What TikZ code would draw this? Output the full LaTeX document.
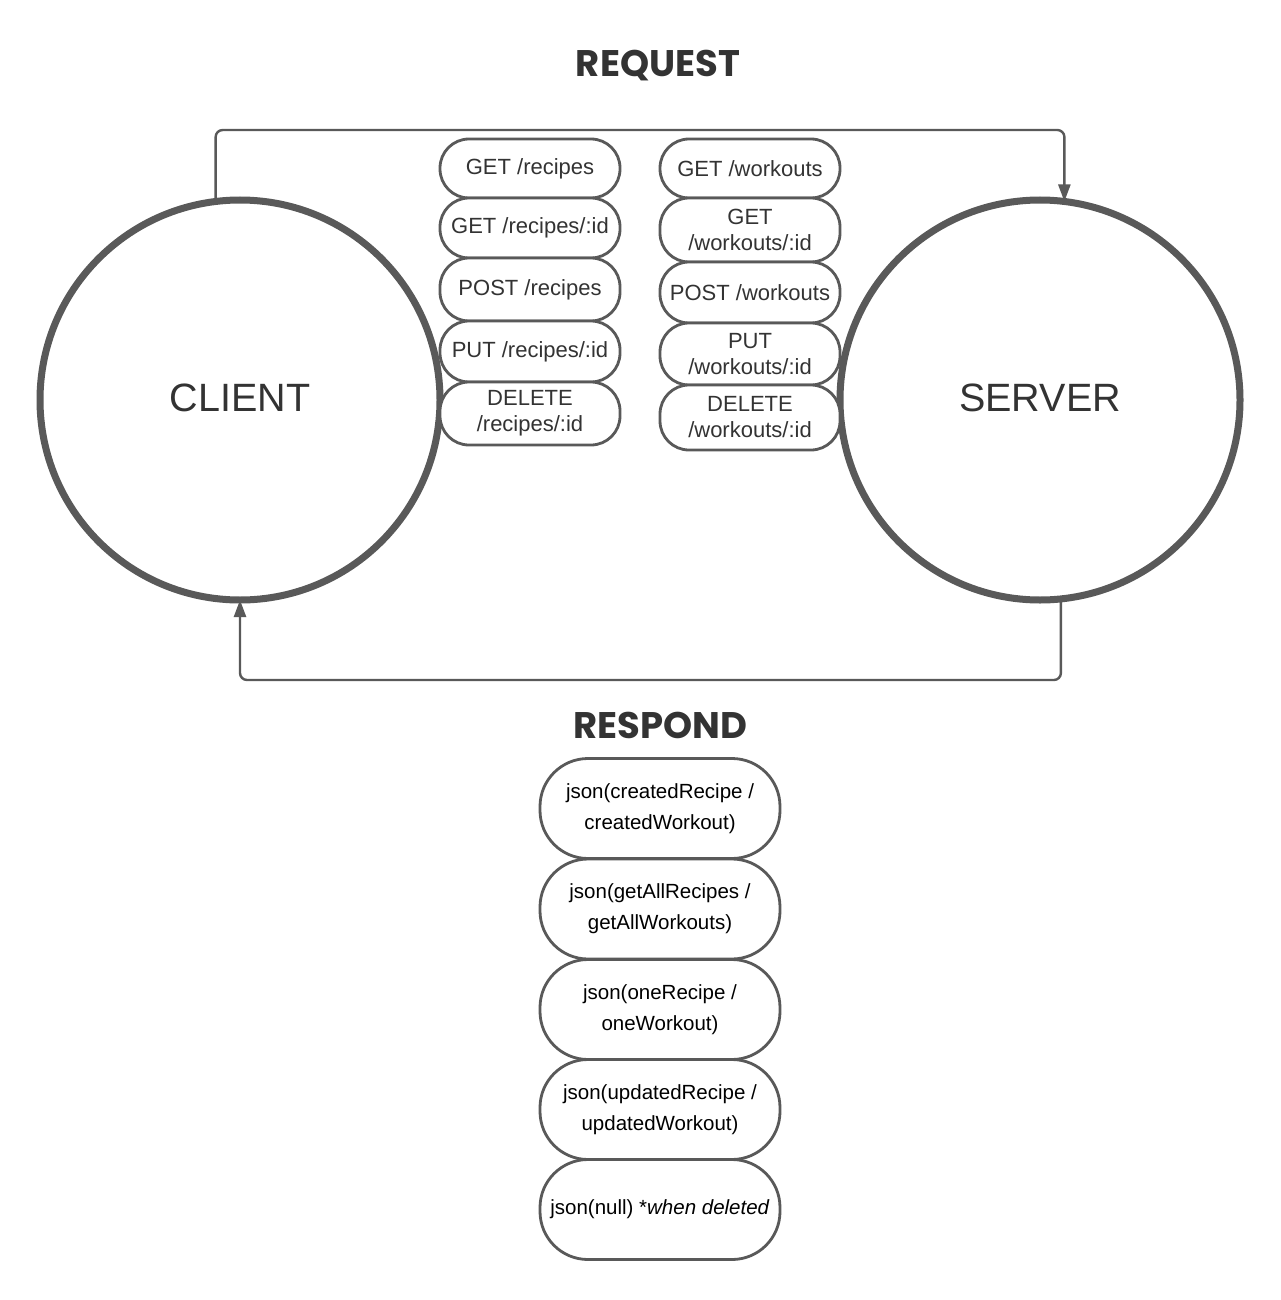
\documentclass[tikz,border=0pt]{standalone}
\usepackage{fontspec}
\setmainfont{Liberation Sans}
\newfontfamily\titlefont{Poppins}
\usetikzlibrary{arrows.meta}
\definecolor{lg}{HTML}{595959}
\definecolor{tx}{HTML}{333333}
\tikzset{
  big/.style={circle, draw=lg, line width=7pt, minimum size=400pt, inner sep=0pt, outer sep=0pt, text=tx, font=\fontsize{39.5}{44}\selectfont},
  req/.style={draw=lg, fill=white, line width=2.8pt, minimum width=180pt, rounded corners=29pt, inner sep=0pt, outer sep=0pt, align=center, text=tx, font=\fontsize{22}{26}\selectfont},
  resp/.style={draw=lg, fill=white, line width=2.8pt, minimum width=240pt, minimum height=100pt, rounded corners=48pt, inner sep=0pt, outer sep=0pt, align=center, text=black, font=\fontsize{20.5}{31}\selectfont},
  conn/.style={draw=lg, line width=2.4pt, rounded corners=7pt, -{Triangle[length=17pt,width=12pt]}},
  ttl/.style={text=tx, font=\titlefont\bfseries\fontsize{37}{42}\selectfont}
}
\begin{document}
\begin{tikzpicture}[x=1pt,y=-1pt]
\useasboundingbox[fill=white] (0,0) rectangle (1280,1300);
\node[ttl] (treq) at (658,66) {REQUEST};
\node[ttl] (tresp) at (660,725) {RESPOND};
\node[big] (client) at (240,400) {\raisebox{5pt}{CLIENT}};
\node[big] (server) at (1040,400) {\raisebox{5pt}{SERVER}};
\coordinate (rq) at (640,130);
\coordinate (rs) at (640,680);
\draw[conn] (client.97) |- (rq) -| (server.83);
\draw[conn] (server.-84) |- (rs) -| (client.south);
% left pills
\node[req, minimum height=59pt] (l1) at (530,168.5) {GET /recipes};
\node[req, minimum height=60pt] (l2) at (530,228) {GET /recipes/:id};
\node[req, minimum height=63pt] (l3) at (530,289.5) {POST /recipes};
\node[req, minimum height=61pt] (l4) at (530,351.5) {PUT /recipes/:id};
\node[req, minimum height=63pt] (l5) at (530,413.5) {DELETE\\/recipes/:id};
% right pills
\node[req, minimum height=59pt] (r1) at (750,168.5) {GET /workouts};
\node[req, minimum height=64pt] (r2) at (750,230) {GET\\/workouts/:id};
\node[req, minimum height=61pt] (r3) at (750,292.5) {POST /workouts};
\node[req, minimum height=62pt] (r4) at (750,354) {PUT\\/workouts/:id};
\node[req, minimum height=65pt] (r5) at (750,417.5) {DELETE\\/workouts/:id};
% respond pills
\node[resp] (p1) at (660,808.5) {json(createdRecipe /\\createdWorkout)};
\node[resp] (p2) at (660,909) {json(getAllRecipes /\\getAllWorkouts)};
\node[resp] (p3) at (660,1009.5) {json(oneRecipe /\\oneWorkout)};
\node[resp] (p4) at (660,1109.5) {json(updatedRecipe /\\updatedWorkout)};
\node[resp] (p5) at (660,1209.5) {json(null) *\textit{when deleted}};
\end{tikzpicture}
\end{document}
